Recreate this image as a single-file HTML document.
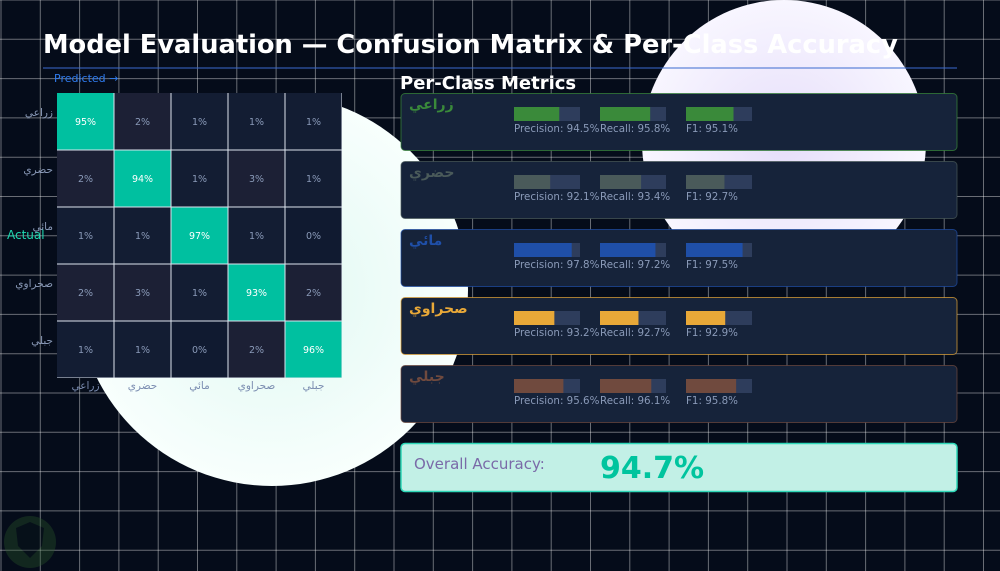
<!DOCTYPE html>
<html><head><meta charset="utf-8"><style>
html,body{margin:0;padding:0;background:#050c1a;}
#wrap{position:relative;width:1000px;height:571px;overflow:hidden;}
svg{display:block;font-family:"DejaVu Sans","Liberation Sans",sans-serif;}
.ar{position:absolute;font-family:"DejaVu Sans","Noto Sans CJK SC",sans-serif;direction:rtl;unicode-bidi:bidi-override;white-space:nowrap;line-height:1;}
</style></head><body>
<div id="wrap">
<svg id="chart" width="1000" height="571" viewBox="0 0 1000 571" xmlns="http://www.w3.org/2000/svg">
<defs>
<radialGradient id="mint" cx="0.5" cy="0.5" r="0.5"><stop offset="0" stop-color="#e0f8f2"/><stop offset="1" stop-color="#f8fffd"/></radialGradient>
<radialGradient id="lav" cx="0.5" cy="0.5" r="0.5"><stop offset="0" stop-color="#e6defa"/><stop offset="1" stop-color="#f8f6ff"/></radialGradient>
</defs>
<rect width="1000" height="571" fill="#050c1a"/>
<g id="grid"></g>
<circle cx="272" cy="290" r="196" fill="url(#mint)"/>
<circle cx="784" cy="142" r="142" fill="url(#lav)"/>
<text x="43" y="53" font-size="25.7" font-weight="bold" fill="#ffffff">Model Evaluation — Confusion Matrix &amp; Per-Class Accuracy</text>
<line x1="43" y1="68" x2="957" y2="68" stroke="#3a6ad0" stroke-width="1"/>
<text x="54" y="82" font-size="11" fill="#2f7cf0">Predicted →</text>
<g id="matrix"></g>
<text x="7" y="239" font-size="12" fill="#1fd8b0">Actual</text>
<text x="400" y="89" font-size="18" font-weight="bold" fill="#ffffff">Per-Class Metrics</text>
<g id="cards"></g>
<g>
<rect x="401" y="443.5" width="556" height="48" rx="4" fill="#c2f0e6" stroke="#2ed8b8" stroke-width="1.5"/>
<text x="414" y="469" font-size="15" fill="#7a6aa8">Overall Accuracy:</text>
<text x="600" y="478" font-size="30" font-weight="bold" fill="#00c49e">94.7%</text>
</g>
<g opacity="0.35">
<circle cx="30" cy="542" r="26" fill="#2a5a2a"/>
<path d="M16 528 L30 522 L44 528 L42 546 L30 558 L18 546 Z" fill="#0a1a18"/>
</g>
</svg>
</div>
<script>
const NS="http://www.w3.org/2000/svg";
const classes=["زراعي","حضري","مائي","صحراوي","جبلي"];
const matrix=[[95,2,1,1,1],[2,94,1,3,1],[1,1,97,1,0],[2,3,1,93,2],[1,1,0,2,96]];
const precision=[94.5,92.1,97.8,93.2,95.6];
const recall=[95.8,93.4,97.2,92.7,96.1];
const f1=[95.1,92.7,97.5,92.9,95.8];
const classColors=["#3a8a3a","#4a5a5a","#1f4fa8","#e8a838","#704a3e"];

function mk(tag,attrs,parent,text){const e=document.createElementNS(NS,tag);for(const k in attrs)e.setAttribute(k,attrs[k]);if(text!==undefined)e.textContent=text;parent.appendChild(e);return e;}
const wrap=document.getElementById('wrap');
function ar(text,css){const d=document.createElement('div');d.className='ar';d.setAttribute('dir','rtl');d.textContent=text;Object.assign(d.style,css);wrap.appendChild(d);return d;}

const g=document.getElementById('grid');
const step=39.3;
for(let x=1;x<1000;x+=step){const l=mk('line',{x1:x,y1:0,x2:x,y2:571,stroke:'rgba(255,255,255,0.4)','stroke-width':1},g);

}
for(let y=0;y<571;y+=step){const l=mk('line',{x1:0,y1:y,x2:1000,y2:y,stroke:'rgba(255,255,255,0.4)','stroke-width':1},g);

}

const m=document.getElementById('matrix');
const mx=57,my=93,cs=57;
const colX=i=>mx+i*cs, rowY=j=>my+j*cs;
mk('rect',{x:mx,y:my,width:cs*5,height:cs*5,fill:'#dde4ee'},m);
function offColor(v){return v>=2?'#1c2035':(v>=1?'#131d33':'#101a30');}
for(let r=0;r<5;r++){for(let c=0;c<5;c++){
 const v=matrix[r][c];
 const cell=mk('rect',{x:colX(c)+(c?0.5:0),y:rowY(r)+(r?0.5:0),width:cs-(c?1:0.5),height:cs-(r?1:0.5),fill:v>=50?'#00c0a0':offColor(v)},m);
 
 
 const t=mk('text',{x:colX(c)+cs/2,y:rowY(r)+cs/2+3.5,'font-size':9.5,'text-anchor':'middle',fill:v>=50?'#ffffff':'#8a9ab8'},m,v+'%');
 
 
}}
classes.forEach((n,i)=>{
 const yl=ar(n,{right:(1000-53)+'px',top:(rowY(i)+cs/2-14)+'px',fontSize:'10.5px',color:'#8a9ab8'});
 
 
 const xl=ar(n,{left:(colX(i))+'px',width:cs+'px',textAlign:'center',top:(rowY(5)+3)+'px',fontSize:'10.5px',color:'#7a8cb0'});
 
 
});

const cg=document.getElementById('cards');
const barW=66,barX=[514,600,686];
const fillW=v=>Math.max(0,Math.min(1,(v-82.5)/17.5))*barW;
classes.forEach((n,i)=>{
 const y=93+i*68;
 const card=mk('rect',{x:401,y:y+0.5,width:556,height:57,rx:4,fill:'#16233a',stroke:classColors[i],'stroke-opacity':0.7,'stroke-width':1},cg);
 
 
 const nm=ar(n,{left:'409px',top:(y+5)+'px',fontSize:'14px',fontWeight:'bold',color:classColors[i]});
 
 
 const vals=[precision[i],recall[i],f1[i]];
 const labs=['Precision: ','Recall: ','F1: '];
 vals.forEach((v,k)=>{
  const tr=mk('rect',{x:barX[k],y:y+14,width:barW,height:14,fill:'#2e3d5c'},cg);
  
  
  const f=mk('rect',{x:barX[k],y:y+14,width:fillW(v),height:14,fill:classColors[i]},cg);
  
  
  const t=mk('text',{x:barX[k],y:y+39,'font-size':10.3,fill:'#8a9ab8'},cg,labs[k]+v.toFixed(1)+'%');
  
  
 });
});
</script>
</body></html>
